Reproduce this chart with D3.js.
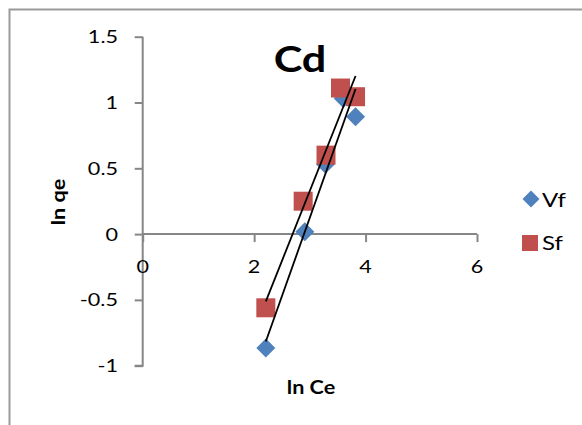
<!DOCTYPE html>
<html>
<head>
<meta charset="utf-8">
<script src="https://cdn.jsdelivr.net/npm/d3@7"></script>
<style>
  html, body { margin: 0; padding: 0; background: #fff; }
  svg { display: block; }
  text { font-family: Lato, "Open Sans", sans-serif; fill: #000; }
</style>
</head>
<body>
<svg id="chart" width="582" height="425"></svg>
<script>
// ln Ce / ln qe pairs for the two sorbents
const vfX = [2.21, 2.91, 3.28, 3.60, 3.82];
const vfY = [-0.866, 0.018, 0.53, 1.03, 0.892];
const sfX = [2.21, 2.88, 3.29, 3.55, 3.82];
const sfY = [-0.56, 0.25, 0.60, 1.11, 1.044];

const xTicks = [0, 2, 4, 6];
const yTicks = [-1, -0.5, 0, 0.5, 1, 1.5];
const seriesNames = ["Vf", "Sf"];

const BLUE = "#4F81BD", RED = "#C0504D", AXIS = "#868686";
const SX = 1.2; // horizontal text stretch

const svg = d3.select("#chart");

// outer frame
svg.append("path")
  .attr("d", "M9.5,425 V9.5 H582")
  .attr("fill", "none").attr("stroke", "#9a9a9a").attr("stroke-width", 2);

const x = d3.scaleLinear().domain([0, 6]).range([142.7, 477]);
const y = d3.scaleLinear().domain([-1, 1.5]).range([365.7, 36.7]);

function label(g, tx, ty, str, opts) {
  return g.append("text")
    .attr("transform", `translate(${tx},${ty})` + (opts.rotate ? ` rotate(${opts.rotate})` : "") + ` scale(${SX},1)`)
    .attr("text-anchor", opts.anchor || "middle")
    .attr("font-size", opts.size)
    .attr("font-weight", opts.bold ? "bold" : "normal")
    .text(str);
}

// y axis
const yAxis = svg.append("g").attr("transform", `translate(${x(0)},0)`)
  .call(d3.axisLeft(y).tickValues(yTicks).tickSize(8).tickFormat(() => ""));
yAxis.select(".domain").attr("d", `M0,${y(1.5)}H0V${y(-1)}H-8`);
// x axis at y = 0
const xAxis = svg.append("g").attr("transform", `translate(0,${y(0)})`)
  .call(d3.axisBottom(x).tickValues(xTicks).tickSize(8).tickFormat(() => ""));
xAxis.select(".domain").attr("d", `M${x(0)},0H${x(6)}`);
svg.selectAll(".domain, .tick line").attr("stroke", AXIS).attr("stroke-width", 2);

const labels = svg.append("g");
yTicks.forEach(v => label(labels, 118, y(v) + 6.5, String(v), {anchor: "end", size: 18}));
xTicks.forEach(v => label(labels, x(v), 273, String(v), {size: 18}));

// least-squares trendline over a series' x extent
function fit(xs, ys) {
  const mx = d3.mean(xs), my = d3.mean(ys);
  const sxy = d3.sum(xs, (d, i) => (d - mx) * (ys[i] - my));
  const sxx = d3.sum(xs, d => (d - mx) * (d - mx));
  const b = sxy / sxx, a = my - b * mx;
  const [x0, x1] = d3.extent(xs);
  return [[x0, a + b * x0], [x1, a + b * x1]];
}

const vf = vfX.map((d, i) => [d, vfY[i]]);
const sf = sfX.map((d, i) => [d, sfY[i]]);

const diamond = h => `M0,${-h}L${h},0L0,${h}L${-h},0Z`;

svg.append("g").selectAll("path").data(vf).join("path")
  .attr("d", diamond(9.5))
  .attr("transform", d => `translate(${x(d[0])},${y(d[1])})`)
  .attr("fill", BLUE);

svg.append("g").selectAll("rect").data(sf).join("rect")
  .attr("x", d => x(d[0]) - 9.5).attr("y", d => y(d[1]) - 9.5)
  .attr("width", 19).attr("height", 19)
  .attr("fill", RED);

const line = d3.line().x(d => x(d[0])).y(d => y(d[1]));
[fit(vfX, vfY), fit(sfX, sfY)].forEach(seg => {
  svg.append("path").attr("d", line(seg))
    .attr("fill", "none").attr("stroke", "#000").attr("stroke-width", 1.8);
});

// titles
label(svg, 300, 72, "Cd", {size: 36, bold: true});
label(svg, 311, 394, "ln Ce", {size: 18, bold: true});
label(svg, 65, 202, "ln qe", {size: 18, bold: true, rotate: -90});

// legend
const leg = svg.append("g");
leg.append("path").attr("d", diamond(8.5)).attr("transform", "translate(531,199)").attr("fill", BLUE);
leg.append("rect").attr("x", 522).attr("y", 235).attr("width", 16).attr("height", 16).attr("fill", RED);
label(leg, 542, 207, seriesNames[0], {anchor: "start", size: 20});
label(leg, 542, 250, seriesNames[1], {anchor: "start", size: 20});
</script>
</body>
</html>
